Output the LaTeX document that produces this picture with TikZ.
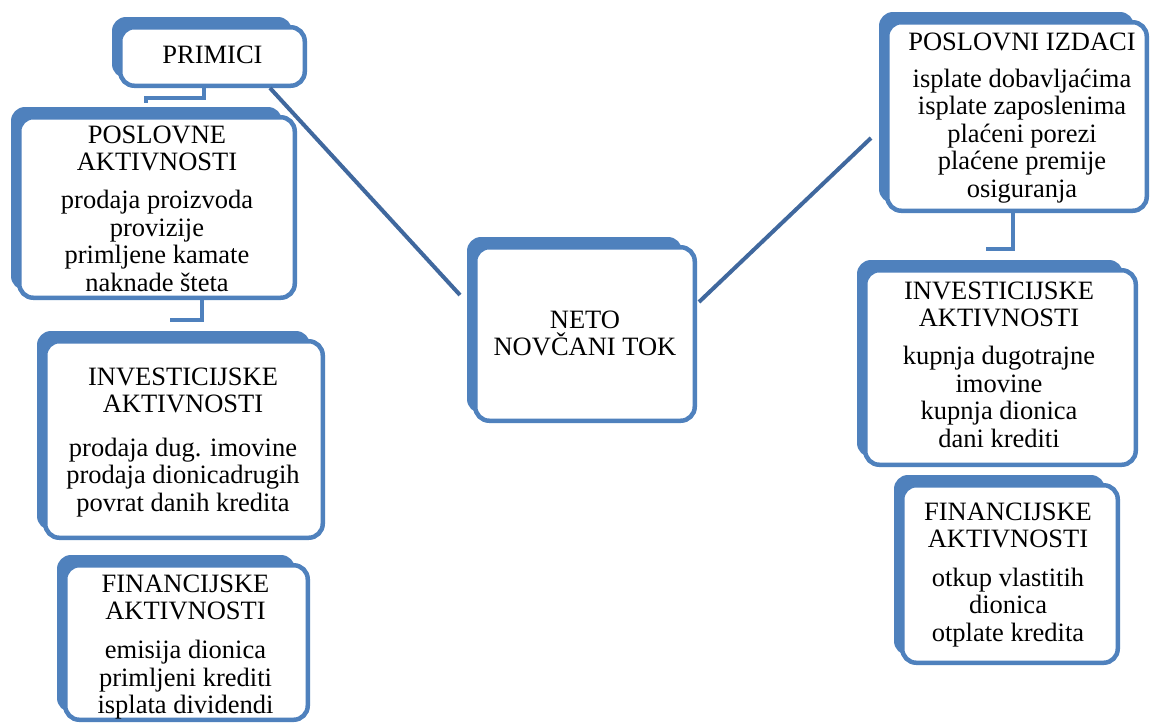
\documentclass[tikz,border=0pt]{standalone}
\usepackage{fontspec}
\setmainfont{Liberation Serif}
\newfontfamily\lserif{Liberation Serif}
\definecolor{boxblue}{RGB}{79,129,189}
\definecolor{linkblue}{RGB}{64,104,158}
\tikzset{
  frontbox/.style={draw=boxblue, line width=4.5pt, fill=white, rounded corners=14pt, inner sep=0pt},
  backbox/.style={fill=boxblue, rounded corners=14pt},
  txt/.style={align=center, inner sep=0pt, anchor=north, font=\lserif\fontsize{26.5}{27.5}\selectfont},
  elbow/.style={draw=boxblue, line width=4pt},
  diag/.style={draw=linkblue, line width=4pt}
}
\newcommand{\cfbox}[5]{%
  \fill[backbox] (#2-6,#3-8) rectangle (#4-15,#5-10);
  \pgfmathsetmacro\bw{#4-#2-4.5}%
  \pgfmathsetmacro\bh{#5-#3-4.5}%
  \node[frontbox, minimum width=\bw pt, minimum height=\bh pt] (#1) at ({(#2+#4)/2},{(#3+#5)/2}) {};
}
\begin{document}
\begin{tikzpicture}[x=1pt,y=-1pt]
\useasboundingbox (0,0) rectangle (1151,724);
\fill[white] (0,0) rectangle (1151,724);

% boxes
\cfbox{primici}{118}{25}{307}{88}
\cfbox{posl}{17}{115}{297}{300}
\cfbox{linv}{43}{339}{325}{540}
\cfbox{lfin}{63}{563}{310}{722}
\cfbox{neto}{473}{245}{697}{423}
\cfbox{pizd}{885}{20}{1149}{213}
\cfbox{rinv}{863}{268}{1138}{467}
\cfbox{rfin}{900}{483}{1120}{665}

% connectors
\draw[diag] ([xshift=57.5pt]primici.south) -- ([xshift=-13pt,yshift=39pt]neto.west);
\draw[diag] ([xshift=2pt,yshift=32pt]neto.east) -- ([xshift=-14pt,yshift=-21.5pt]pizd.west);
\draw[elbow] ([xshift=-8.5pt]primici.south) -- ++(0,10) -| ([xshift=-11pt,yshift=12pt]posl.north);
\draw[elbow] ([xshift=45pt]posl.south) -- ++(0,20) -| ([xshift=-12pt,yshift=17pt]linv.north);
\draw[elbow] ([xshift=-4.5pt]pizd.south) -- ++(0,36) -| ([xshift=-12.5pt,yshift=17pt]rinv.north);

% texts
\node[txt] (tprimici) at (212.5,45.5) {PRIMICI};
\node[txt] (tposl) at (157,125.3) {POSLOVNE\\AKTIVNOSTI\\[10.5pt]prodaja proizvoda\\provizije\\primljene kamate\\naknade šteta};
\node[txt] (tlinv) at (183,367.6) {INVESTICIJSKE\\AKTIVNOSTI\\[16pt]prodaja dug. imovine\\prodaja dionicadrugih\\povrat danih kredita};
\node[txt] (tlfin) at (185.5,574.6) {FINANCIJSKE\\AKTIVNOSTI\\[11.5pt]emisija dionica\\primljeni krediti\\isplata dividendi};
\node[txt] (tneto) at (585,310.6) {NETO\\NOVČANI TOK};
\node[txt] (tpizd) at (1022,32.6) {POSLOVNI IZDACI\\[9.5pt]isplate dobavljaćima\\isplate zaposlenima\\plaćeni porezi\\plaćene premije\\osiguranja};
\node[txt] (trinv) at (999,281.6) {INVESTICIJSKE\\AKTIVNOSTI\\[10.5pt]kupnja dugotrajne\\imovine\\kupnja dionica\\dani krediti};
\node[txt] (trfin) at (1008,502.6) {FINANCIJSKE\\AKTIVNOSTI\\[11pt]otkup vlastitih\\dionica\\otplate kredita};
\end{tikzpicture}
\end{document}
